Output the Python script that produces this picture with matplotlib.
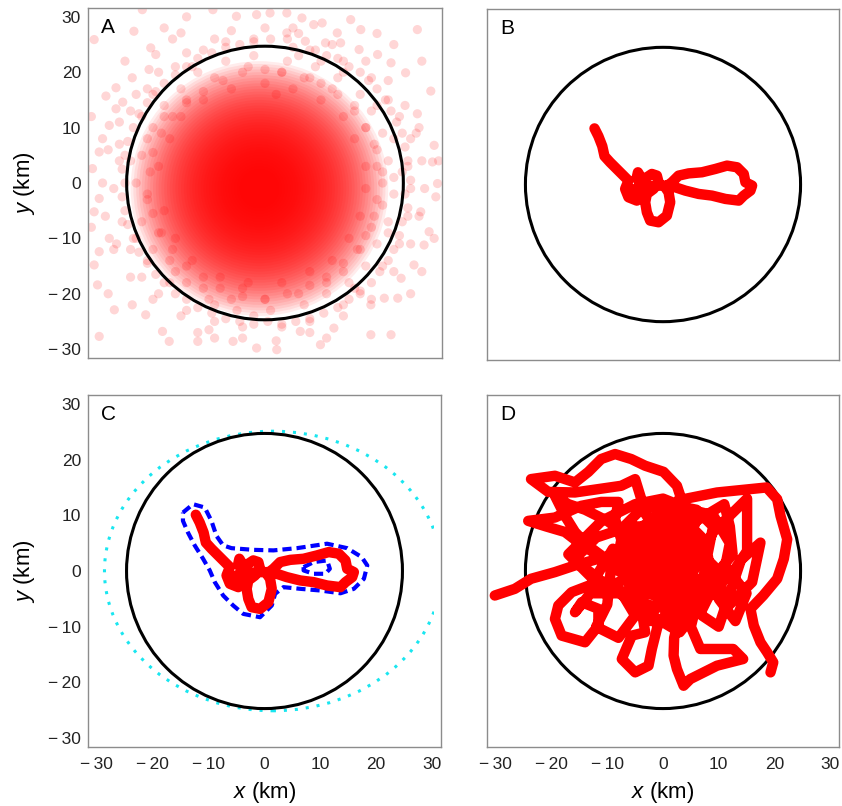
import matplotlib
matplotlib.use("Agg")
import matplotlib.pyplot as plt
from matplotlib.patches import Circle, Ellipse, Rectangle

plt.rcParams['font.family'] = ['Liberation Sans', 'DejaVu Sans']
plt.rcParams['mathtext.fontset'] = 'custom'
plt.rcParams['mathtext.it'] = 'Liberation Sans:italic'
plt.rcParams['mathtext.rm'] = 'Liberation Sans'

# --- data (km) ---
ticks = [-30, -20, -10, 0, 10, 20, 30]
tick_labels = ['\u2212\u200930', '\u2212\u200920', '\u2212\u200910', '0', '10', '20', '30']
boundary_r = 24.7

# A: sampled locations, outside the boundary (sparse)
outer_x = [-30.5, -21.9, -23.4, -15, -16.5, -9.3, -5.1, -1.5, 0.9, 3.9, 6.6, 8.7, 10.2, 15.3, 17.1, 27.2,
           12.9, 3.9, 7.2, 10.8, 13.5, 16.8, 20.1, 22.5, 25.1, 29.6, 27.2, 30.2, 29.9, 30.8, 30.5, 27.8,
           29.3, 30.2, 28.4, 26.6, 24.3, 23.7, 21.3, 18.9, 18.9, 22.5, 12.3, 9.9, 6.3, 2.1, -1.5, -5.7,
           -12, -18.3, -17.1, -21.3, -23.7, -26.9, -29.6, -29.9, -30.5, -29.6, -27.8, -30.5, -29.6, -30.8,
           -29.6, -29, -27.8, -26.6, -25.4, -28.4, -26.6, -23.7, -20.7, -19.5, -20.4,
           -26, -27, -25.5, -26, -24, -22, -19, -14, -9, -4, 3, 8, 14, 17, 21, 24, 25.5, 26, 25.5, 26,
           24, 22, 19, 14, 9, 4, -2, -7, -11, -16, -21, -24, -26.5, 27.5, 28, -28, 11, -9, -25, 23, 28,
           -18, -12, 5, 26, -31, -31, 31, -14, 20]
outer_y = [25.9, 31.3, 27.4, 27.1, 26, 31.3, 30.1, 30.4, 30.7, 30.7, 29.8, 28.6, 28.9, 29.5, 27.7, 27.7,
           27.1, 27.1, 25.6, 25.3, 25.3, 24.1, 23.2, 21.7, 19.9, 16.6, 12.5, 6.8, 3.8, -0.1, -2.5, -5.2,
           -8.8, -10, -11.2, -14.8, -17.2, -20.8, -20.8, -22, -27.4, -27.4, -26.2, -29.2, -26.8, -30.1, -29.8, -28.6,
           -28.6, -26.8, -28.6, -23.8, -22, -22.9, -27.7, -18.4, -14.8, -12.4, -10, -5.2, -2.8, 2.6,
           5.6, 8, 10.4, 13.4, 14.6, 15.7, 17.2, 19, 20.5, 23.2, 24.4,
           4, -1, -7, 7, -12, -17, -20, -23, -25, -26, -26, -25, -22, -20, -15, -11, -6, -1, 3, 8,
           12, 15, 19, 22, 24, 26, 26, 25.5, 24, 21, 17, 13, -11, 10, -16, -20, -28, -28, 22, 25, 22,
           28, -27, 28, -20, -8, 12, 4, 30, 27]

# A: locations near the boundary line (24-30 km)
band_x = [5, 8, 11, 13, 15, 17, 18.5, 20, 21.5, 22.5, 23.5, 24.5, 25, 25.5, 24.5, 26, 25, 25.5, 24.5, 24,
          23, 22, 20.5, 19, 17, 15, 13, 10.5, 8, 5.5, 3, 0.5,
          -2, -4.5, -7, -9.5, -12, -14, -16, -18, -19.5, -21, -22.5, -23.5, -24.5, -25, -25.5, -25, -25.5,
          -25, -24.5, -23.5, -22.5, -21, -19.5, -18, -16, -14, -12, -9.5, -7, -4.5, -2, 1,
          -6, 0, 6, 12, 18, 22, 25, 27, 28, 28.5, 27.5, 26, 23, 19, 14, 8, 2, -4, -10, -15, -20, -24,
          -27, -28.5, -29, -28, -26, -23, -19, -14, -9]
band_y = [24.5, 24, 23, 22.5, 21, 20, 18.5, 17, 15, 13, 11, 9, 6.5, 4, 2, 0.5, -2, -4.5, -7, -9.5,
          -12, -14, -16, -18, -19.5, -21, -22.5, -23.5, -24.5, -25, -25.5, -25,
          -25.5, -25, -24.5, -23.5, -22.5, -21, -20, -18, -16.5, -14.5, -12.5, -10, -7.5, -5, -2.5, 0, 2.5,
          5, 7.5, 10, 12.5, 14.5, 16.5, 18, 19.5, 21, 22.5, 23.5, 24.5, 25, 25.5, 26,
          27.5, 28, 27, 25, 22, 18.5, 14, 9, 4, -1, -6, -11, -16, -21, -24, -27, -28.5, -28, -26.5, -24,
          -21, -17, -12, -6, 0, 6, 11, 16, 20, 23.5, 26]

# A: locations inside the boundary ring (12-24 km)
ring_x = [-22, -21, -20, -19, -18, -17, -15, -14, -12, -10, -7, -5, -2, 1, 4, 7, 9, 11, 13, 15, 17, 18, 19, 20,
          21, 22, 22, 23, 23, -23, -22, -21, -20, -18, -16, -14, -11, -9, -6, -3, 0, 3, 6, 8, 11, 12, 14, 16,
          17, 18, 19, 20, 21, 21, -19, -18, -17, -16, -15, -13, -11, -8, -6, -3, 0, 3, 5, 8, 10, 12, 14, 15,
          16, 17, 18, 18, -20, -22, -23, -21, -13, -2, 10, 16, 22, 23, -24, -9, 6, 20, -17, 14, -4, 2,
          3, 7, 10, 13, 16, 18, 19.5, 20, 21, 20, 19.5, 18, 16.5, 14, 11, 8, 4, 0, -4, -8, -11, -14,
          -16.5, -18.5, -20, -21, -20.5, -20, -18.5, -16.5, -14, -11, -7.5, -4, 0]
ring_y = [5, -3, 10, -9, 14, -14, 17, -18, 20, -21, 22, -23, 23, -23, 22, -22, 21, -20, 19, -18, 16, -15, 13, -11,
          9, -7, 4, -2, 1, 0, -7, 8, -12, 12, -16, 15, -19, 19, -21, 21, -21, 20, -20, 19, -18, 17, -16, 14,
          -12, 10, -8, 6, -4, 2, 3, -5, 8, -10, 12, -14, 15, -17, 17, -18, 18, -18, 17, -16, 15, -14, 12, -10,
          8, -6, 3, -1, 16, 12, -10, -14, 21, -24, 22, -19, -9, 8, 4, -22, 23, 14, -18, 20, -19, 16,
          20, 19, 18, 16, 13, 10, 7, 3, 0, -3, -6, -9.5, -12, -14.5, -17, -18.5, -20, -21, -20.5, -19, -17, -15,
          -12, -9, -5.5, -2, 2, 5.5, 9, 12, 14.5, 16.5, 18.5, 20, 20.5]

# A: density of the dense core, as nested radii around its centre
core_centre = (-1, -1)
core_r = [23, 22.5, 22, 21.5, 21, 20.5, 20, 19.5, 19, 18.5, 18, 17.5, 17, 16.5, 16, 15.5, 15, 14.5, 14, 13.5,
          13, 12.5, 12, 11.5, 11, 10.5, 10, 9.5, 9, 8.5, 8, 7.5, 7, 6.5, 6, 5.5, 5, 4.5, 4, 3.5]

# B / C: short track
track_x = [-12.3, -11.6, -10.9, -10.5, -9.5, -8.3, -7.1, -6.2, -6.8, -6.2, -4.7, -3.5, -3.8, -4.7, -4.5,
           -3.8, -2.9, -2.0, -1.1, -0.8, -1.7, -2.9, -3.2, -2.9, -2.3, -0.8, 0.7, 1.3, 1.0, 0.4, 1.6, 2.8,
           4.6, 7.0, 9.4, 11.5, 13.3, 14.5, 14.8, 16.0, 15.7, 14.5, 13.6, 11.2, 8.8, 6.4, 4.0, 2.2, 0.4,
           -1.4, -3.2, -5.0, -5.9, -5.0, -4.0]
track_y = [10.1, 8.7, 6.9, 5.1, 4.0, 2.8, 1.6, 0.7, -0.8, -2.3, -2.9, -2.0, -0.5, 1.3, 2.2,
           1.0, 1.3, 1.9, 1.6, 0.4, -0.8, -1.7, -3.2, -5.0, -6.5, -6.8, -5.6, -3.2, -1.4, -0.5, 0.4, 1.6,
           2.0, 2.2, 2.8, 3.4, 3.1, 1.9, 0.4, -0.2, -1.1, -2.0, -2.9, -2.6, -2.0, -1.7, -1.1, -0.5, -0.2,
           -0.2, -0.5, -0.8, -1.7, -2.6, -2.2]

# C: home-range contour (outer and inner hole)
hr_out_x = [-14.6, -12.8, -10.7, -9.5, -8.6, -7.4, -5.9, -2.0, 1.6, 5.8, 11.2, 14.8, 17.4, 18.4, 17.8, 16.0,
            13.6, 10.0, 6.4, 3.4, 1.9, 1.3, -0.8, -3.8, -5.6, -7.4, -8.9, -9.8, -11.0, -12.5, -13.7, -14.6, -14.6]
hr_out_y = [10.5, 12.0, 11.4, 9.0, 6.3, 4.6, 4.1, 3.8, 3.7, 4.1, 4.9, 4.1, 2.5, 1.0, -1.4, -3.2,
            -4.0, -3.5, -3.2, -2.9, -4.1, -6.2, -8.3, -7.7, -6.2, -4.4, -2.0, 0.1, 2.2, 4.6, 6.9, 9.0, 10.5]
hr_in_x = [7.0, 8.8, 11.2, 11.7, 10.9, 8.8, 7.0, 7.0]
hr_in_y = [0.7, 1.6, 1.9, 0.4, -0.5, -0.5, 0.1, 0.7]
# C: outer detection contour (centre, width, height, right cut-off)
det_centre = (1.5, 0)
det_w, det_h = 60.3, 50.2
det_xmax = 30.4

# D: long track
d_x = [-30.2, -26.6, -23.7, -19.4, -15.8, -11.6, -8, -5, -2, 1, 4, 5, 2, -2, -5, -4, 0, 4, 7, 8, 6, 1, -4, -7,
       0, 3, 6, 4, 0, -4, -3, 1, 5, 7, 8, 6, 2, -3, -6, -7, -5, -1, 3, 6, 4, 0, -3, -1, 3, 5, 2, -2, -4, -2,
       2, 5, 3, -1, -5, -2, 3, 7, 9, 8, 9, 6, 1, -4, -7, -8, -6, -3, 1, 4, 1, -2, 1, 4, 7, 5, 2, -7,
       -8.6, -8.0,
       -11.1, -14.7, -19.4, -24.2, -21, -17.6, -15, -12, -8, -4, -1, 3,
       -3, -5.0, -7.5, -11.6, -15.8, -20.6, -23.7, -19.4, -15.8, -13.4, -11.1, -8.6, -5.7, -3.2, 0.1, 2.5,
       3.1, 2, 0, -2,
       -6, -10, -14, -17, -19.4, -17.6, -15.8, -13.4, -10, -6,
       -10, -13, -16.4, -18.8, -19.4, -18.2, -14.0, -11.6, -11.6, -14.6, -15.8, -13, -8, -4, -3.2,
       -5.6, -7.4, -5.0, -2.6, -2.0, -1, 1, 3, 0, -3, 0, 4, 2,
       3, 2, 1.9, 2.5, 3.7, 4.9, 9.7, 14.4, 12.6, 6.7, 5, 6, 9, 12, 16, 17.5, 14, 10, 7, 4, 1, -1, 3,
       -6, -12, -16, -12, -9, -10, -12, -8, -5, -8, -13, -17, -11, -5, 0, 5, 9, 12, 10, 13, 15, 11, 7, 3,
       -2, 0, 3,
       6, 11, 12, 12.5, 10, 7, 9, 15.1, 15.1, 15.1, 12, 8, 4, 3, 3.7,
       9.7, 15.7, 18.6, 20.5, 21.1, 22.3, 21.7, 20.5, 18.0, 15.7, 16.3, 17.5, 18.7, 19.8, 19.3]
d_y = [-4.4, -3.2, -1.4, -0.2, 1.0, 2.2, 3, 2, 0, -2, -1, 3, 6, 5, 1, -3, -5, -5, -2, 2, 6, 8, 7, 4,
       0, 3, 1, -3, -4, -1, 4, 6, 7, 4, 0, -5, -7, -6, -3, 2, 7, 10, 11, 9, 5, 3, 0, -3, -2, 2, 4, 3, 6, 9,
       8, 4, 0, -1, -5, -9, -8, -7, -3, 3, 8, 11, 12, 11, 8, 3, -2, -4, -5, -2, 1, 6, 9, 9, 6, 0, -3, 4,
       9.3, 12.4,
       12.4, 11.7, 9.6, 9.0, 8, 7, 5, 3, 0, -2, 1, 4,
       10, 16.5, 15.3, 14.7, 14.1, 14.2, 16.5, 17.1, 15.9, 17.8, 20.1, 21.0, 20.1, 18.9, 17.8, 15.3,
       13.5, 10, 6, 2,
       6, 9, 11, 12, 13.5, 9.9, 7.0, 4.5, 2, -1,
       -3, -2.5, -3.8, -6.2, -8.6, -11.6, -12.8, -9.8, -6.8, -5.6, -7.4, -4, -4, -6, -11.0,
       -11.6, -15.8, -18.2, -17.0, -14.0, -10, -7, -4, -2, 0, 3, 1, -3,
       -8, -12, -15.2, -17.6, -20.6, -19.4, -17.0, -15.8, -14.0, -14.0, -10, -6, -4, -6, -2, 5.1, 2, -10, -8, -4, 0, 4, 8,
       8, 6, 2, -1, 4, -6, -10, -12, -8, -3, -1, 3, 9, 12, 13, 11, 10, 5, -5, -9, -4, 1, -6, -11,
       -8, -4, 4,
       9, 12, 8, 3, 0, 3, 7, 13, 8, 3.6, -1, -3, 0, 4, 12.9,
       14.1, 14.7, 15.0, 12.9, 9.9, 5.7, 2.2, -1.4, -4.4, -6.8, -9.8, -12.8, -14.6, -16.4, -18.2]

# --- figure ---
W, H = 842, 806
fig = plt.figure(figsize=(W / 100, H / 100), dpi=100)


def add_panel(left, top, right, bottom, letter, show_x, show_y):
    ax = fig.add_axes([left / W, 1 - bottom / H, (right - left) / W, (bottom - top) / H])
    ax.set_xlim(-31.6, 31.6)
    ax.set_ylim(-31.6, 31.6)
    for s in ax.spines.values():
        s.set_color('#8c8c8c')
        s.set_linewidth(1.0)
    ax.set_xticks(ticks)
    ax.set_yticks(ticks)
    ax.tick_params(length=0, labelsize=12.5, colors='#222222')
    ax.tick_params(axis='x', pad=7)
    ax.tick_params(axis='y', pad=5)
    if show_x:
        ax.set_xticklabels(tick_labels)
        ax.set_xlabel('$x$ (km)', fontsize=16, labelpad=6)
    else:
        ax.set_xticklabels([])
    if show_y:
        ax.set_yticklabels(tick_labels)
        ax.set_ylabel('$y$ (km)', fontsize=16, labelpad=8)
    else:
        ax.set_yticklabels([])
    ax.text(0.037, 0.972, letter, transform=ax.transAxes, ha='left', va='top', fontsize=15)
    return ax


def boundary(ax):
    ax.add_patch(Circle((0, 0), boundary_r, fill=False, ec='black', lw=2.2, zorder=5))


track_kw = dict(color='red', lw=7.5, solid_capstyle='round', solid_joinstyle='round', zorder=6)
dash_kw = dict(color='blue', lw=3.0, linestyle=(0, (2.2, 1.2)), zorder=5)

# A
axA = add_panel(88, 8, 442, 358, 'A', False, True)
for r in core_r:
    axA.add_patch(Circle(core_centre, r, fc='red', ec='none', alpha=0.075, zorder=1))
axA.scatter(ring_x, ring_y, s=44, color='red', alpha=0.16, edgecolors='none', zorder=2)
axA.scatter(band_x, band_y, s=44, color='red', alpha=0.16, edgecolors='none', zorder=2)
axA.scatter(outer_x, outer_y, s=44, color='red', alpha=0.16, edgecolors='none', zorder=2)
boundary(axA)

# B
axB = add_panel(487, 9, 839, 360, 'B', False, False)
boundary(axB)
axB.plot(track_x, track_y, **track_kw)

# C
axC = add_panel(88, 395, 441, 747, 'C', True, True)
det = Ellipse(det_centre, det_w, det_h, fill=False, ec='#19e6f0', lw=2.2,
              linestyle=(0, (1.0, 2.6)), zorder=3)
axC.add_patch(det)
det.set_clip_path(Rectangle((-40, -40), det_xmax + 40, 80, transform=axC.transData))
boundary(axC)
axC.plot(hr_out_x, hr_out_y, **dash_kw)
axC.plot(hr_in_x, hr_in_y, **dash_kw)
axC.plot(track_x, track_y, **track_kw)

# D
axD = add_panel(487, 395, 839, 747, 'D', True, False)
boundary(axD)
axD.plot(d_x, d_y, **track_kw)

fig.savefig('out.png', dpi=100)
